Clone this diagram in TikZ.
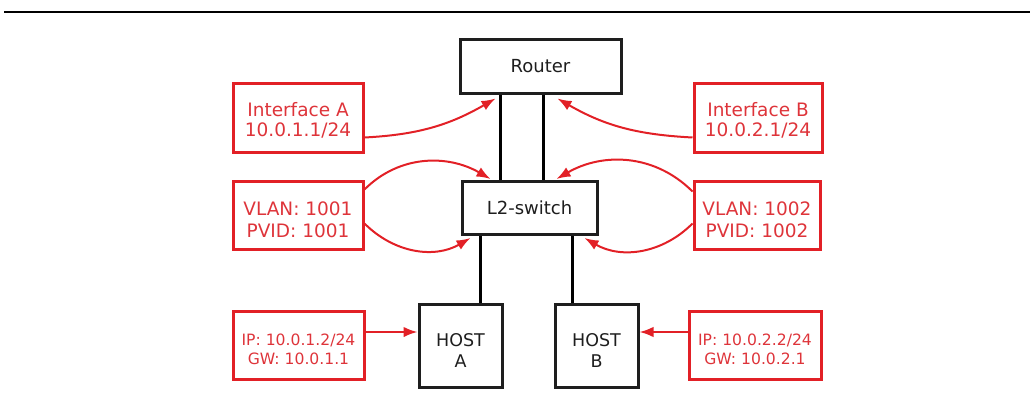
\documentclass[tikz,border=0pt]{standalone}
\usepackage{fontspec}
\setmainfont{DejaVu Sans}
\usetikzlibrary{arrows.meta}
\definecolor{nred}{RGB}{226,32,38}
\definecolor{tred}{RGB}{222,52,58}
\definecolor{nblk}{RGB}{30,30,30}
\newcommand{\twoline}[3]{\raisebox{-#1}[\height][\depth]{\begin{tabular}{@{}c@{}}#2\\#3\end{tabular}}}
\begin{document}
\begin{tikzpicture}[x=1pt,y=-1pt,
  blkbox/.style={draw=nblk,line width=3pt,inner sep=0pt,align=center,text=nblk,font=\fontsize{18}{21}\selectfont},
  hostbox/.style={blkbox,font=\fontsize{17.5}{21}\selectfont},
  redbox/.style={draw=nred,line width=3pt,inner sep=0pt,text=tred,font=\fontsize{18.5}{20}\selectfont},
  vlanbox/.style={redbox,font=\fontsize{18.5}{21.7}\selectfont},
  ipbox/.style={redbox,font=\fontsize{15.6}{19.3}\selectfont},
  wire/.style={draw=black,line width=3.8pt},
  redarr/.style={draw=nred,line width=2pt,-{Latex[length=14pt,width=10.5pt]}}]
\useasboundingbox (0,0) rectangle (1030,396);
\coordinate (tl) at (4,12);
\coordinate (tr) at (1030,12);
\draw[line width=2pt] (tl) -- (tr);
% black nodes
\node[blkbox,minimum width=161pt,minimum height=53pt] (router) at (540.5,66.5) {Router};
\node[blkbox,minimum width=135pt,minimum height=53pt] (sw) at (529.5,208) {L2-switch};
\node[hostbox,minimum width=83pt,minimum height=83pt] (hA) at (460.5,345.5) {\twoline{7pt}{HOST}{A}};
\node[hostbox,minimum width=83pt,minimum height=83pt] (hB) at (596.5,345.5) {\twoline{7pt}{HOST}{B}};
% red nodes
\node[redbox,minimum width=130pt,minimum height=69pt] (ifA) at (298,117.5) {\twoline{4.5pt}{Interface A}{10.0.1.1/24}};
\node[redbox,minimum width=128pt,minimum height=69pt] (ifB) at (758,117.5) {\twoline{4.5pt}{Interface B}{10.0.2.1/24}};
\node[vlanbox,minimum width=130pt,minimum height=68pt] (vA) at (298,215.5) {\twoline{6.5pt}{VLAN: 1001}{PVID: 1001}};
\node[vlanbox,minimum width=126pt,minimum height=68pt] (vB) at (757,215.5) {\twoline{6.5pt}{VLAN: 1002}{PVID: 1002}};
\node[ipbox,minimum width=131pt,minimum height=68pt] (ipA) at (298.5,345) {\twoline{6.4pt}{IP: 10.0.1.2/24}{GW: 10.0.1.1}};
\node[ipbox,minimum width=132pt,minimum height=68pt] (ipB) at (755,345) {\twoline{6.4pt}{IP: 10.0.2.2/24}{GW: 10.0.2.1}};
% wires
\draw[wire] ([xshift=42pt]router.south west) -- ([xshift=40pt]sw.north west);
\draw[wire] ([xshift=85pt]router.south west) -- ([xshift=83pt]sw.north west);
\draw[wire] ([xshift=20pt]sw.south west) -- ([xshift=63pt]hA.north west);
\draw[wire] ([xshift=112pt]sw.south west) -- ([xshift=19pt]hB.north west);
% red arrows
\draw[redarr] ([yshift=-20pt]ifA.east) to[out=3,in=210] ([xshift=37pt,yshift=-4pt]router.south west);
\draw[redarr] ([yshift=-20pt]ifB.west) to[out=177,in=-30] ([xshift=99pt,yshift=-4pt]router.south west);
\draw[redarr] ([yshift=26pt]vA.east) to[out=45,in=150] ([xshift=30pt,yshift=1pt]sw.north west);
\draw[redarr] ([yshift=-8pt]vA.east) to[out=-45,in=-150] ([xshift=10pt,yshift=-2pt]sw.south west);
\draw[redarr] ([yshift=24pt]vB.west) to[out=135,in=30] ([xshift=96pt,yshift=1pt]sw.north west);
\draw[redarr] ([yshift=-8pt]vB.west) to[out=-135,in=-30] ([xshift=124pt,yshift=-2pt]sw.south west);
\draw[redarr] ([yshift=13pt]ipA.east) -- ([yshift=13.5pt]hA.west);
\draw[redarr] ([yshift=13pt]ipB.west) -- ([yshift=13.5pt]hB.east);
\end{tikzpicture}
\end{document}
